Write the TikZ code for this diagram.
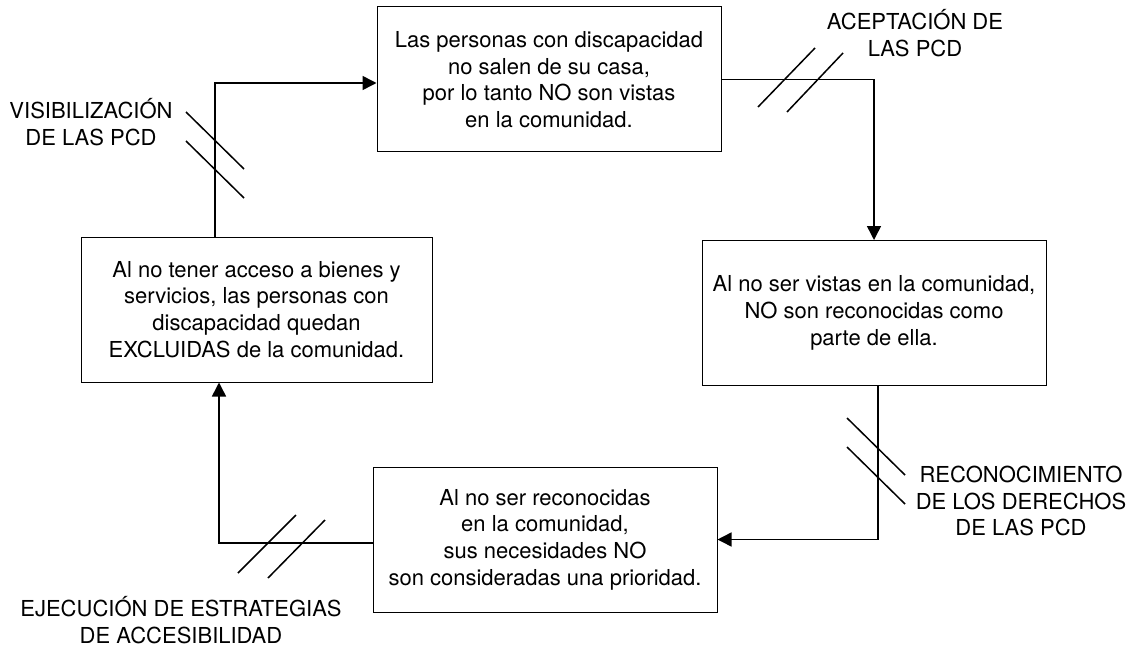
\documentclass[tikz,border=0pt]{standalone}
\usepackage{fontspec}
\setmainfont{TeX Gyre Heros}
\usetikzlibrary{arrows.meta,calc}
\begin{document}
\begin{tikzpicture}[x=1pt,y=-1pt,
  txt/.style={font=\fontsize{22}{26.7}\selectfont, align=center, inner sep=0pt},
  stepbox/.style={txt, draw=black, line width=1pt, minimum width=344pt, minimum height=145pt},
  conn/.style={line width=1.5pt, -{Triangle[length=14pt,width=14pt]}},
  slash/.style={line width=1.5pt}]
\useasboundingbox (0,0) rectangle (1131,647);
\node[stepbox] (tb) at (549,79.5) {Las personas con discapacidad\\no salen de su casa,\\por lo tanto NO son vistas\\en la comunidad.};
\node[stepbox] (rb) at (874,313) {Al no ser vistas en la comunidad,\\NO son reconocidas como\\parte de ella.};
\node[stepbox] (bb) at (545,539.5) {Al no ser reconocidas\\en la comunidad,\\sus necesidades NO\\son consideradas una prioridad.};
\node[stepbox, minimum width=351pt] (lb) at (256.5,309.5) {Al no tener acceso a bienes y\\servicios, las personas con\\discapacidad quedan\\EXCLUIDAS de la comunidad.};
\node[txt] (vis) at (91,122) {VISIBILIZACIÓN\\DE LAS PCD};
\node[txt] (acep) at (915,33) {ACEPTACIÓN DE\\LAS PCD};
\node[txt] (reco) at (1021,501) {RECONOCIMIENTO\\DE LOS DERECHOS\\DE LAS PCD};
\node[txt] (ejec) at (181,620) {EJECUCIÓN DE ESTRATEGIAS\\DE ACCESIBILIDAD};
\draw[conn] ([xshift=-41.5pt]lb.north) |- ([yshift=-3.5pt]tb.west);
\draw[conn] (tb.east) -| (rb.north);
\draw[conn] ([xshift=4pt]rb.south) |- (bb.east);
\draw[conn] ([yshift=-3.5pt]bb.west) -| ([xshift=-37.5pt]lb.south);
\draw[slash] (186,112) -- (244,169);
\draw[slash] (186,141) -- (244,198);
\draw[slash] (758,107) -- (815,48);
\draw[slash] (787,112) -- (843,53);
\draw[slash] (847,418) -- (905,475);
\draw[slash] (847,447) -- (905,504);
\draw[slash] (238,573) -- (296,515);
\draw[slash] (268,578) -- (325,520);
\end{tikzpicture}
\end{document}
